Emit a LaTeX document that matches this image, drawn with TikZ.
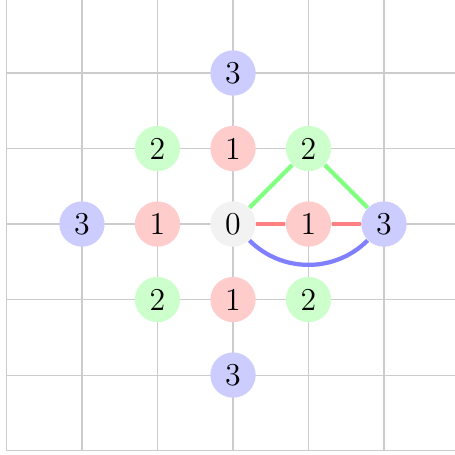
\documentclass[tikz,border=0pt]{standalone}
\begin{document}
\begin{tikzpicture}[x=1cm,y=1cm,
  vtx/.style={circle,minimum size=0.6cm,inner sep=0pt,font=\large},
  d0/.style={vtx,fill=gray!10},
  d1/.style={vtx,fill=red!20},
  d2/.style={vtx,fill=green!20},
  d3/.style={vtx,fill=blue!20},
  e1/.style={red!50,line width=1.6pt},
  e2/.style={green!50,line width=1.6pt},
  e3/.style={blue!50,line width=1.6pt}]
\useasboundingbox (-3.086,-3.046) rectangle (2.940,2.967);
\begin{scope}
\clip (-3.086,-3.046) rectangle (2.940,2.967);
\draw[gray!40,line width=0.4pt] (-3,-3) grid (3.5,3.5);
\end{scope}
\node[d0] (o) at (0,0) {0};
\node[d1] (r) at (1,0) {1};
\node[d1] (l) at (-1,0) {1};
\node[d1] (u) at (0,1) {1};
\node[d1] (d) at (0,-1) {1};
\node[d2] (ur) at (1,1) {2};
\node[d2] (ul) at (-1,1) {2};
\node[d2] (dr) at (1,-1) {2};
\node[d2] (dl) at (-1,-1) {2};
\node[d3] (rr) at (2,0) {3};
\node[d3] (ll) at (-2,0) {3};
\node[d3] (uu) at (0,2) {3};
\node[d3] (dd) at (0,-2) {3};
\draw[e2] (o) -- (ur) -- (rr);
\draw[e1] (o) -- (r) -- (rr);
\draw[e3] (o) to[bend right=45] (rr);
\end{tikzpicture}
\end{document}
